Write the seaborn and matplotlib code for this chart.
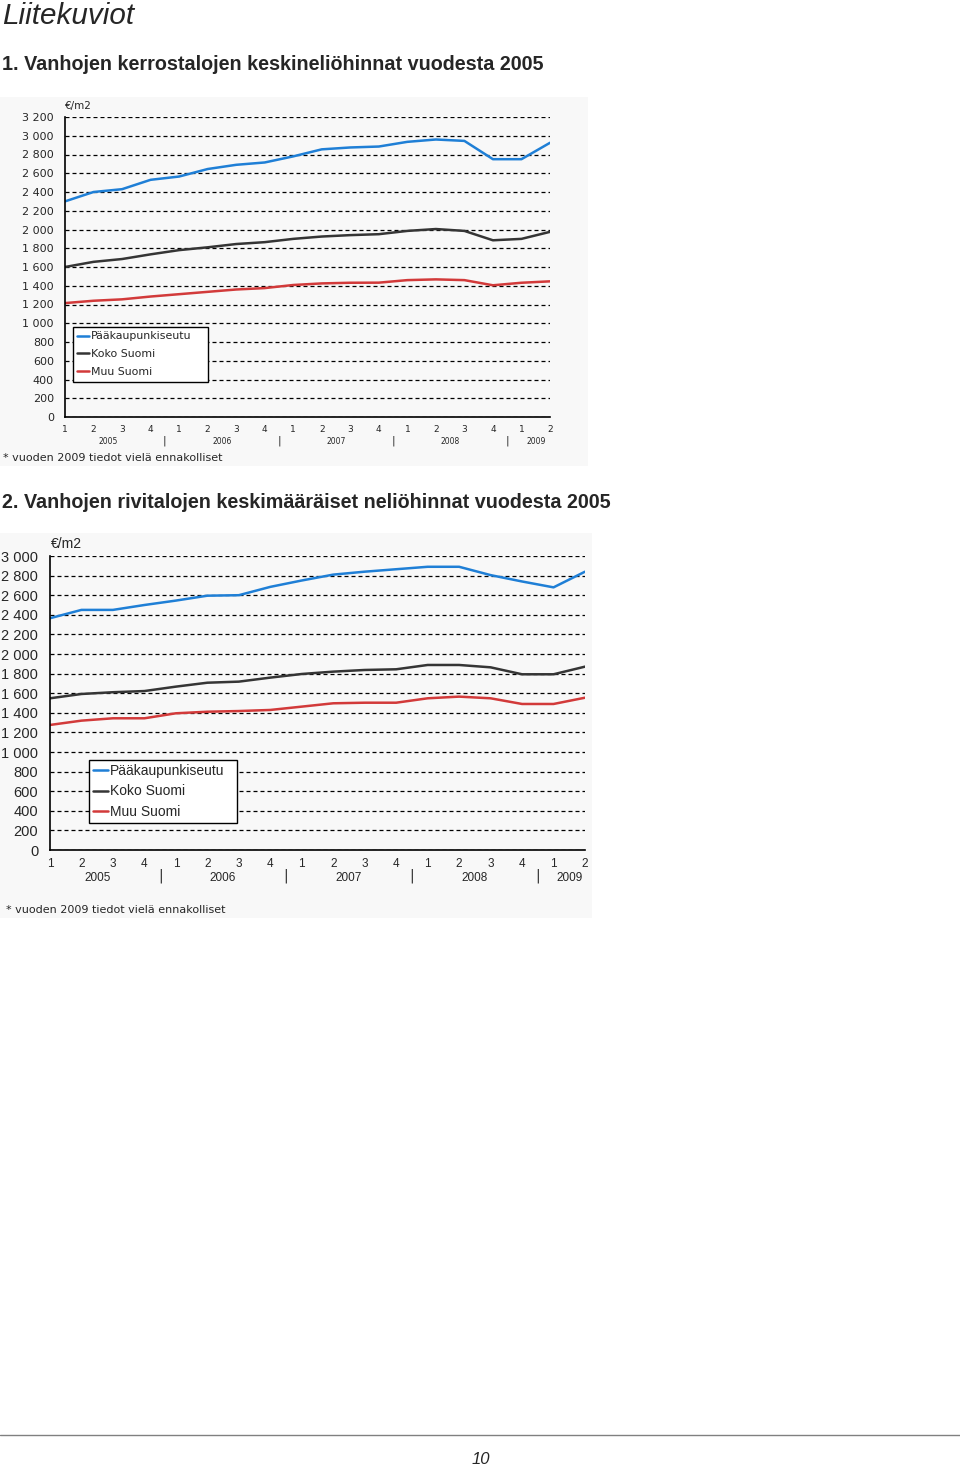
import matplotlib
matplotlib.use("Agg")
import matplotlib.pyplot as plt
import matplotlib.transforms as mtransforms
from matplotlib.patches import Rectangle
from matplotlib.lines import Line2D
import seaborn as sns
import pandas as pd

# ---------------- data ----------------
quarters = ["1", "2", "3", "4", "1", "2", "3", "4", "1", "2", "3", "4",
            "1", "2", "3", "4", "1", "2"]
years = ["2005", "2006", "2007", "2008", "2009"]
series_names = ["Pääkaupunkiseutu", "Koko Suomi", "Muu Suomi"]

kerrostalo_paakaupunkiseutu = [2300, 2400, 2430, 2530, 2565, 2645, 2690, 2715, 2780,
                               2855, 2875, 2885, 2935, 2960, 2945, 2750, 2750, 2925]
kerrostalo_koko_suomi = [1600, 1655, 1685, 1735, 1780, 1810, 1845, 1865, 1900,
                         1925, 1940, 1950, 1985, 2005, 1985, 1885, 1900, 1975]
kerrostalo_muu_suomi = [1215, 1240, 1255, 1285, 1310, 1335, 1360, 1375, 1408,
                        1425, 1432, 1433, 1460, 1468, 1460, 1405, 1432, 1447]

rivitalo_paakaupunkiseutu = [2365, 2450, 2450, 2500, 2545, 2595, 2600, 2685, 2750,
                             2810, 2840, 2865, 2890, 2890, 2805, 2740, 2680, 2840]
rivitalo_koko_suomi = [1548, 1592, 1610, 1622, 1667, 1707, 1718, 1759, 1796,
                       1820, 1837, 1844, 1888, 1888, 1864, 1793, 1793, 1871]
rivitalo_muu_suomi = [1276, 1320, 1344, 1344, 1395, 1411, 1418, 1429, 1463,
                      1497, 1503, 1503, 1548, 1565, 1548, 1490, 1490, 1554]

colors = ["#1f7fd6", "#353535", "#d23a3a"]
footnote = "* vuoden 2009 tiedot vielä ennakolliset"

# ---------------- setup ----------------
sns.set_style("white")
plt.rcParams["font.family"] = ["Liberation Sans", "DejaVu Sans"]

W, H = 960, 1467
fig = plt.figure(figsize=(W / 100, H / 100), dpi=100)
fig.patch.set_facecolor("white")


def rect(x0, x1, ytop, ybot):
    return [x0 / W, 1 - ybot / H, (x1 - x0) / W, (ybot - ytop) / H]


def fx(x):
    return x / W


def fy(y):
    return 1 - y / H


def make_df(vals):
    rows = []
    for name, v in zip(series_names, vals):
        for i, val in enumerate(v):
            rows.append({"t": i, "value": val, "series": name})
    return pd.DataFrame(rows)


def draw_chart(ax, df, ymax, ystep, font, tick_fs, tick_pad, q_fs, q_off, y_fs,
               y_off, sep_off, sep_fs, leg_box, leg_fs, leg_sp, leg_bp,
               unit_xy, unit_fs):
    sns.lineplot(data=df, x="t", y="value", hue="series", palette=colors,
                 hue_order=series_names, linewidth=1.8, ax=ax, legend=False)
    ax.set_xlim(0, len(quarters) - 1)
    ax.set_ylim(0, ymax)
    ax.set_facecolor("none")
    ax.set_xlabel("")
    ax.set_ylabel("")
    yt = list(range(0, ymax + 1, ystep))
    ax.set_yticks(yt)
    ax.set_yticklabels([f"{v:,}".replace(",", " ") for v in yt],
                       fontsize=tick_fs, family=font)
    ax.tick_params(axis="y", length=0, pad=tick_pad)
    ax.set_xticks([])
    ax.yaxis.grid(True, color="black", linestyle=(0, (3.2, 2.4)), linewidth=0.9)
    ax.xaxis.grid(False)
    for s in ["top", "right"]:
        ax.spines[s].set_visible(False)
    for s in ["left", "bottom"]:
        ax.spines[s].set_color("black")
        ax.spines[s].set_linewidth(1.2)
    ax.set_axisbelow(True)
    trans = mtransforms.blended_transform_factory(ax.transData, ax.transAxes)
    ax_h = ax.get_position().height * H
    for i, q in enumerate(quarters):
        ax.text(i, -q_off / ax_h, q, transform=trans, ha="center", va="center",
                fontsize=q_fs, family=font)
    idx = 0
    for yr in years:
        n = min(4, len(quarters) - idx)
        center = idx + (n - 1) / 2
        ax.text(center, -y_off / ax_h, yr, transform=trans, ha="center",
                va="center", fontsize=y_fs, family=font)
        if idx + 4 < len(quarters):
            ax.text(idx + 3.5, -sep_off / ax_h, "|", transform=trans, ha="center",
                    va="center", fontsize=sep_fs, family="DejaVu Sans")
        idx += 4
    handles = [Line2D([0], [0], color=c, lw=1.8) for c in colors]
    x0, y0, x1, y1 = leg_box
    leg = ax.legend(handles, series_names, loc="upper left",
                    bbox_to_anchor=(fx(x0), fy(y1), (x1 - x0) / W, (y1 - y0) / H),
                    bbox_transform=fig.transFigure, borderaxespad=0,
                    mode="expand",
                    frameon=True, fancybox=False, framealpha=1,
                    facecolor="white", edgecolor="black",
                    prop={"family": font, "size": leg_fs},
                    handlelength=1.1, handletextpad=0.1, borderpad=leg_bp,
                    labelspacing=leg_sp)
    leg.get_frame().set_linewidth(1.0)
    fig.text(fx(unit_xy[0]), fy(unit_xy[1]), "€/m2", fontsize=unit_fs,
             family=font, ha="left", va="center")


# ---------------- page text ----------------
fig.text(fx(2), fy(16), "Liitekuviot", fontsize=21.3, style="italic",
         family=["Liberation Sans Narrow", "Liberation Sans"], ha="left", va="center")
fig.text(fx(2), fy(65), "1. Vanhojen kerrostalojen keskineliöhinnat vuodesta 2005",
         fontsize=14.25, weight="bold", ha="left", va="center")
fig.text(fx(2), fy(502),
         "2. Vanhojen rivitalojen keskimääräiset neliöhinnat vuodesta 2005",
         fontsize=14.25, weight="bold", ha="left", va="center")

fig.patches.append(Rectangle((0, fy(466)), fx(588), (466 - 97) / H,
                             transform=fig.transFigure, facecolor="#f8f8f8",
                             edgecolor="none", zorder=-10))
fig.patches.append(Rectangle((0, fy(918)), fx(592), (918 - 533) / H,
                             transform=fig.transFigure, facecolor="#f8f8f8",
                             edgecolor="none", zorder=-10))

# ---------------- chart 1 ----------------
ax1 = fig.add_axes(rect(65, 550, 117, 417))
draw_chart(ax1, make_df([kerrostalo_paakaupunkiseutu, kerrostalo_koko_suomi,
                         kerrostalo_muu_suomi]),
           ymax=3200, ystep=200, font="DejaVu Sans", tick_fs=8, tick_pad=8,
           q_fs=6.5, q_off=13, y_fs=5.5, y_off=24, sep_off=24, sep_fs=8,
           leg_box=(73, 327, 208, 379), leg_fs=7.9, leg_sp=0.72, leg_bp=0.4,
           unit_xy=(65, 106), unit_fs=7.5)
fig.text(fx(3), fy(458), footnote, fontsize=8, family="DejaVu Sans",
         ha="left", va="center")

# ---------------- chart 2 ----------------
ax2 = fig.add_axes(rect(50, 585, 556, 850))
draw_chart(ax2, make_df([rivitalo_paakaupunkiseutu, rivitalo_koko_suomi,
                         rivitalo_muu_suomi]),
           ymax=3000, ystep=200, font="Liberation Sans", tick_fs=10.5, tick_pad=8.5,
           q_fs=8.5, q_off=14, y_fs=8.5, y_off=28, sep_off=26, sep_fs=10,
           leg_box=(89, 760, 237, 821), leg_fs=10, leg_sp=0.45, leg_bp=0.3,
           unit_xy=(51, 544), unit_fs=10)
fig.text(fx(6), fy(910), footnote, fontsize=8, family="DejaVu Sans",
         ha="left", va="center")

# ---------------- footer ----------------
fig.add_artist(Line2D([0, 1], [fy(1435), fy(1435)], transform=fig.transFigure,
                      color="#808080", linewidth=1.0))
fig.text(fx(481), fy(1460), "10", fontsize=12, style="italic",
         ha="center", va="center")

fig.savefig("out.png", dpi=100)
